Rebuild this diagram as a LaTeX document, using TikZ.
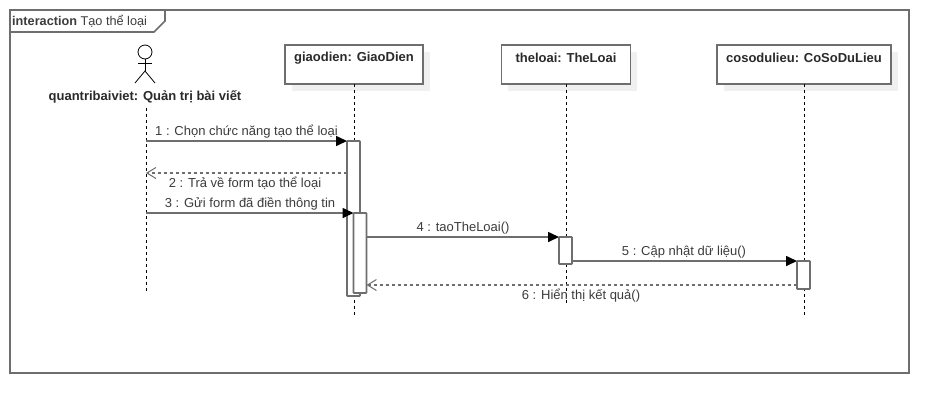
\documentclass[tikz,border=0pt]{standalone}
\usepackage{fontspec}
\setmainfont{Liberation Sans}
\usetikzlibrary{arrows.meta}
\definecolor{ln}{HTML}{6E6E6E}
\definecolor{tx}{HTML}{3C3C3C}
\tikzset{
  x=1pt,y=-1pt,
  lbl/.style={font=\fontsize{13}{15}\selectfont,text=tx,inner sep=0pt},
  blbl/.style={font=\fontsize{13}{15}\selectfont\bfseries,text=tx!70!black,inner sep=0pt},
  objbox/.style={draw=ln,line width=1.6pt,fill=white,inner sep=0pt,outer sep=0pt,minimum height=39pt,anchor=north west},
  shade box/.style={fill=black!6,draw=none},
  lifeline/.style={black,line width=1pt,dash pattern=on 3pt off 3pt},
  activ/.style={draw=ln,line width=1.6pt,fill=white,inner sep=0pt,outer sep=0pt,minimum width=13pt,anchor=north west,rounded corners=0.5pt},
  msg/.style={draw=ln,line width=1.6pt,-{Triangle[black,length=11pt,width=10pt]}},
  ret/.style={draw=ln,line width=1.2pt,dash pattern=on 3pt off 3pt,-{Straight Barb[ln,length=9pt,width=11pt,line width=1pt]}},
  fig/.style={draw=black,line width=0.8pt},
}
\begin{document}
\begin{tikzpicture}
\useasboundingbox (0,0) rectangle (949,413);
\fill[white] (0,0) rectangle (949,413);
% frame
\node[draw=ln,line width=1.6pt,outer sep=0pt,minimum width=899pt,minimum height=363pt,inner sep=0pt,anchor=north west] (frame) at (10,10) {};
\draw[ln,line width=1.6pt] (frame.north west) ++(0,22) coordinate (tabbl) -- ++(144,0) coordinate (tabn) -- (165,21) coordinate (tabr) -- (165,10) coordinate (tabt);
\node[lbl,font=\fontsize{12.7}{15}\selectfont,anchor=west] (title) at (12,21) {\textbf{interaction} Tạo thể loại};
% shadows
\fill[shade box] (292,52) rectangle (430,91);
\fill[shade box] (508,52) rectangle (637,91);
\fill[shade box] (724,52) rectangle (898,91);
% objects
\node[objbox,minimum width=138pt] (gd) at (285,45) {};
\node[objbox,minimum width=129pt] (tl) at (501.5,45) {};
\node[objbox,minimum width=174pt] (cs) at (717,45) {};
\node[blbl] (gdt) at (354,58) {giaodien: GiaoDien};
\node[blbl] (tlt) at (566,58) {theloai: TheLoai};
\node[blbl] (cst) at (804,58) {cosodulieu: CoSoDuLieu};
% actor
\node[draw=black,line width=0.8pt,circle,minimum size=14pt,inner sep=0pt,outer sep=0pt] (head) at (145,52) {};
\coordinate (hip) at (145,71);
\draw[fig] (head.south) -- (hip);
\draw[fig] (138,63) coordinate (arml) -- (152,63) coordinate (armr);
\draw[fig] (135,83) coordinate (legl) -- (hip) -- (155,83) coordinate (legr);
\node[blbl] (act) at (145,97) {quantribaiviet: Quản trị bài viết};
% lifeline ends
\coordinate (qtend) at (146,293);
\coordinate (qttop) at (146,108);
\coordinate (gdend) at (354,316);
\coordinate (tlend) at (566,303);
\coordinate (csend) at (804,315);
\draw[lifeline] (qttop) -- (qtend);
\draw[lifeline] (gd.south) -- (gdend);
\draw[lifeline] (tl.south) -- (tlend);
\draw[lifeline] (cs.south) -- (csend);
% activations
\node[activ,minimum height=155pt] (a1) at (347,141) {};
\node[activ,minimum height=80pt] (a2) at (353.5,213) {};
\node[activ,minimum height=27pt] (a3) at (559,237) {};
\node[activ,minimum height=28pt] (a4) at (797,261) {};
% messages
\draw[msg] (qtend |- a1.north west) -- (a1.north west);
\path (a1.west |- 0,173) coordinate (r2s);
\draw[ret] (r2s) -- (qtend |- r2s);
\draw[msg] (qtend |- a2.north west) -- (a2.north west);
\path (a3.north west) coordinate (m4e);
\draw[msg] (a2.east |- m4e) -- (m4e);
\path (a4.north west) coordinate (m5e);
\draw[msg] (a3.east |- m5e) -- (m5e);
\path (a4.west |- 0,285) coordinate (r6s);
\draw[ret] (r6s) -- (a2.east |- r6s);
% labels
\node[lbl] (l1) at (246.5,132) {1 : Chọn chức năng tạo thể loại};
\node[lbl] (l2) at (245,183) {2 : Trả về form tạo thể loại};
\node[lbl] (l3) at (250,204) {3 : Gửi form đã điền thông tin};
\node[lbl] (l4) at (463,228) {4 : taoTheLoai()};
\node[lbl] (l5) at (684,252) {5 : Cập nhật dữ liệu()};
\node[lbl] (l6) at (581,296) {6 : Hiển thị kết quả()};
\end{tikzpicture}
\end{document}
